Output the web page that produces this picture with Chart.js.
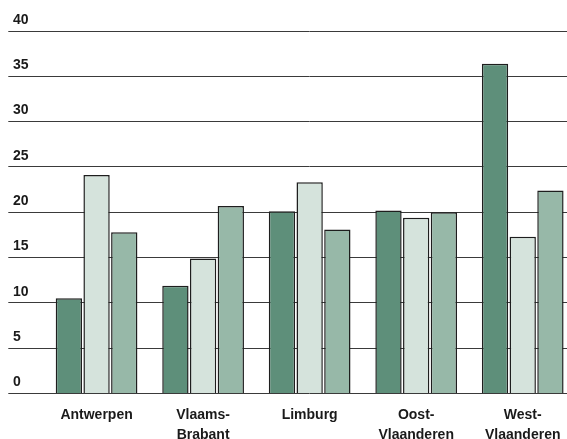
<!DOCTYPE html>
<html>
<head>
<meta charset="utf-8">
<script src="https://cdn.jsdelivr.net/npm/chart.js@4.4.1/dist/chart.umd.min.js"></script>
<style>
    html, body { margin: 0; padding: 0; background: #fff; overflow: hidden; }
    #wrap { width: 567px; height: 439px; overflow: hidden; }
</style>
</head>
<body>
<div id="wrap"><canvas id="chart" width="576" height="439"></canvas></div>
<script>
// Chart data
const provinces = [['Antwerpen'], ['Vlaams-', 'Brabant'], ['Limburg'], ['Oost-', 'Vlaanderen'], ['West-', 'Vlaanderen']];
const seriesDark = [10.5, 11.9, 20.1, 20.2, 36.4];
const seriesLight = [24.1, 14.9, 23.3, 19.4, 17.3];
const seriesMid = [17.8, 20.7, 18.1, 20.0, 22.4];
const yTicks = [0, 5, 10, 15, 20, 25, 30, 35, 40];

const labelFont = '"Liberation Sans", Arial, sans-serif';

// Y labels sit above each grid line at the left edge
const yLabelPlugin = {
    id: 'yLabels',
    afterDraw(chart) {
        const scale = chart.scales.y;
        const ctx = chart.ctx;
        ctx.save();
        ctx.font = 'bold 14px ' + labelFont;
        ctx.fillStyle = '#1a1a1a';
        ctx.textAlign = 'left';
        ctx.textBaseline = 'bottom';
        scale.ticks.forEach(t => {
            const y = scale.getPixelForValue(t.value);
            ctx.fillText(t.label, 13, y - 4);
        });
        ctx.restore();
    }
};

const bar = (data, color) => ({
    data: data,
    backgroundColor: color,
    borderColor: '#1e1e1e',
    borderWidth: 1.5,
    categoryPercentage: 0.78,
    barPercentage: 0.95
});

new Chart(document.getElementById('chart'), {
    type: 'bar',
    data: {
        labels: provinces,
        datasets: [
            bar(seriesDark, '#5e8f7a'),
            bar(seriesLight, '#d5e3dc'),
            bar(seriesMid, '#97b8a8')
        ]
    },
    options: {
        responsive: false,
        animation: false,
        devicePixelRatio: 1,
        layout: { padding: { left: 8, top: 31, right: 0, bottom: 0 } },
        plugins: {
            legend: { display: false },
            tooltip: { enabled: false }
        },
        scales: {
            x: {
                grid: { display: false },
                border: { display: false },
                ticks: {
                    color: '#1a1a1a',
                    font: { family: labelFont, size: 14, weight: 'bold', lineHeight: 1.4 },
                    padding: 4,
                    maxRotation: 0,
                    autoSkip: false
                },
                afterFit: s => { s.height = 45.5; }
            },
            y: {
                min: 0,
                max: 40,
                afterBuildTicks: s => { s.ticks = yTicks.map(v => ({ value: v })); },
                ticks: { display: false },
                grid: {
                    color: '#3a3a3a',
                    lineWidth: 1,
                    drawTicks: true,
                    tickLength: 35,
                    tickColor: '#3a3a3a'
                },
                border: { display: false },
                afterFit: s => { s.width = 35.3; }
            }
        }
    },
    plugins: [yLabelPlugin]
});
</script>
</body>
</html>
